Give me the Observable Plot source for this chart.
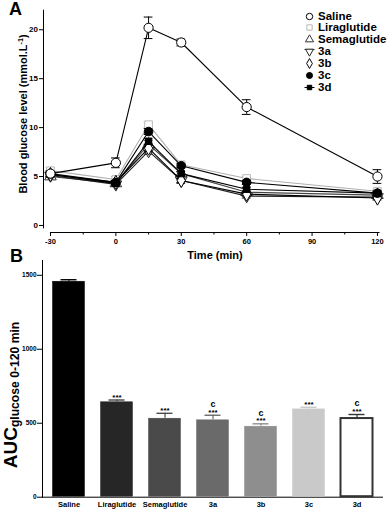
<!DOCTYPE html>
<html>
<head>
<meta charset="utf-8">
<script src="https://cdn.jsdelivr.net/npm/d3@7"></script>
<script src="https://cdn.jsdelivr.net/npm/@observablehq/plot@0.6"></script>
<style>
  html, body { margin: 0; padding: 0; background: #fff; }
  #wrap { position: relative; width: 392px; height: 512px; overflow: hidden;
          font-family: "Liberation Sans", Arial, Helvetica, sans-serif; font-weight: bold; color: #000; }
  .abs { position: absolute; }
  .letter { font-size: 18px; line-height: 1; }
  .rot { transform: translate(-50%, -50%) rotate(-90deg); white-space: nowrap; line-height: 1; }
  .ctr { transform: translate(-50%, -50%); white-space: nowrap; line-height: 1; }
  #legend .row { position: absolute; left: 0; height: 11px; display: flex; align-items: center; white-space: nowrap; }
  #legend .row span { font-size: 11.5px; margin-left: 3px; line-height: 11px; }
  sup { font-size: 0.65em; vertical-align: 0.45em; line-height: 0; }
  sub { font-size: 0.64em; vertical-align: -0.2em; line-height: 0; }
</style>
</head>
<body>
<div id="wrap">
  <div id="chartA" class="abs" style="left:0;top:0"></div>
  <div id="chartB" class="abs" style="left:0;top:258px"></div>
  <div class="abs letter" style="left:9px;top:0px">A</div>
  <div class="abs letter" style="left:10px;top:247px">B</div>
  <div class="abs rot" style="left:23px;top:114px;font-size:11px">Blood glucose level (mmol.L<sup>-1</sup>)</div>
  <div class="abs ctr" style="left:215px;top:255px;font-size:11px">Time (min)</div>
  <div class="abs rot" style="left:10px;top:395px;font-size:19px">AUC<sub>glucose 0-120 min</sub></div>
  <div id="legend" class="abs" style="left:304px;top:10.5px"></div>
</div>
<script>
// ---------- Panel A data ----------
const times = [-30, 0, 15, 30, 60, 120];
const seriesNames = ["Saline", "Liraglutide", "Semaglutide", "3a", "3b", "3c", "3d"];
const saline      = [5.3, 6.4, 20.2, 18.7, 12.1, 5.0];
const salineErr   = [0.3, 0.5, 1.1, 0.35, 0.75, 0.7];
const liraglutide = [5.6, 4.7, 10.3, 6.2, 4.8, 3.5];
const liraglutideErr = [0.3, 0.3, 0.3, 0.2, 0.2, 0.2];
const semaglutide = [5.0, 4.3, 8.3, 5.3, 3.4, 3.1];
const semaglutideErr = [0.2, 0.2, 0.4, 0.2, 0.2, 0.2];
const cpd3a = [5.1, 4.2, 7.6, 4.6, 3.0, 2.9];
const cpd3aErr = [0.2, 0.2, 0.3, 0.3, 0.2, 0.2];
const cpd3b = [5.2, 4.4, 7.9, 4.6, 3.2, 2.8];
const cpd3bErr = [0.2, 0.2, 0.3, 0.2, 0.2, 0.2];
const cpd3c = [5.3, 4.4, 9.6, 6.1, 4.4, 3.3];
const cpd3cErr = [0.2, 0.2, 0.3, 0.2, 0.2, 0.2];
const cpd3d = [5.2, 4.3, 8.6, 5.3, 3.7, 3.3];
const cpd3dErr = [0.2, 0.2, 0.3, 0.2, 0.2, 0.2];
const yTicksA = [0, 5, 10, 15, 20];
const xTicksA = [-30, 0, 30, 60, 90, 120];
const xMinorA = [-15, 15, 45, 75, 105];

// ---------- Panel B data ----------
const aucGroups = ["Saline", "Liraglutide", "Semaglutide", "3a", "3b", "3c", "3d"];
const aucValues = [1460, 645, 534, 523, 480, 597, 535];
const aucErr    = [10, 12, 33, 31, 16, 11, 24];
const aucStars  = ["", "***", "***", "***", "***", "***", "***"];
const aucLetter = ["", "", "", "c", "c", "", "c"];
const yTicksB = [0, 500, 1000, 1500];

// ---------- styles ----------
const sqrt3 = Math.sqrt(3);
const triangleDown = {
  draw(context, size) {
    const y = -Math.sqrt(size / (sqrt3 * 3));
    context.moveTo(0, -y * 2);
    context.lineTo(-sqrt3 * y, y);
    context.lineTo(sqrt3 * y, y);
    context.closePath();
  }
};
const style = {
  "Saline":      {symbol: "circle",   r: 4.6, fill: "#fff", stroke: "#000", line: "#000"},
  "Liraglutide": {symbol: "square",   r: 4.3, fill: "#fff", stroke: "#b8b8b8", line: "#b0b0b0"},
  "Semaglutide": {symbol: "triangle", r: 4.3, fill: "#fff", stroke: "#333", line: "#444"},
  "3a":          {symbol: triangleDown, r: 4.3, fill: "#fff", stroke: "#222", line: "#222"},
  "3b":          {symbol: "diamond",  r: 4.3, fill: "#fff", stroke: "#000", line: "#000"},
  "3c":          {symbol: "circle",   r: 4.3, fill: "#000", stroke: "#000", line: "#000"},
  "3d":          {symbol: "square",   r: 3.6, fill: "#000", stroke: "#000", line: "#000"}
};
const seriesValues = {
  "Saline": [saline, salineErr], "Liraglutide": [liraglutide, liraglutideErr],
  "Semaglutide": [semaglutide, semaglutideErr], "3a": [cpd3a, cpd3aErr],
  "3b": [cpd3b, cpd3bErr], "3c": [cpd3c, cpd3cErr], "3d": [cpd3d, cpd3dErr]
};
const rows = seriesNames.flatMap(name => times.map((t, i) => ({
  name, t, v: seriesValues[name][0][i], e: seriesValues[name][1][i]
})));

const font = '"Liberation Sans", Arial, Helvetica, sans-serif';
const drawOrder = ["Liraglutide", "Semaglutide", "3a", "3b", "3d", "3c", "Saline"];
const seriesMarks = drawOrder.flatMap(name => {
  const s = style[name];
  const d = rows.filter(r => r.name === name);
  return [
    Plot.line(d, {x: "t", y: "v", stroke: s.line, strokeWidth: 1.1}),
    Plot.ruleX(d, {x: "t", y1: r => r.v - r.e, y2: r => r.v + r.e, stroke: s.line, strokeWidth: 1}),
    Plot.ruleY(d, {y: r => r.v + r.e, x1: r => r.t - 2, x2: r => r.t + 2, stroke: s.line, strokeWidth: 1}),
    Plot.ruleY(d, {y: r => r.v - r.e, x1: r => r.t - 2, x2: r => r.t + 2, stroke: s.line, strokeWidth: 1}),
    Plot.dot(d, {x: "t", y: "v", symbol: s.symbol, r: s.r, fill: s.fill, stroke: s.stroke, strokeWidth: 1})
  ];
});

const xMinA = -33.2, yMinA = -0.72;
const chartA = Plot.plot({
  width: 392, height: 262,
  marginLeft: 43, marginRight: 12, marginTop: 9.7, marginBottom: 30,
  x: {domain: [xMinA, 121.4]},
  y: {domain: [yMinA, 22]},
  style: {fontFamily: font, fontWeight: "bold", fontSize: "8px", background: "transparent", color: "#000", overflow: "visible"},
  marks: [
    Plot.ruleX([xMinA], {y1: -0.35, y2: 22, stroke: "#000", strokeWidth: 1}),
    Plot.ruleY([yMinA], {x1: -30, x2: 121.2, stroke: "#000", strokeWidth: 1.2}),
    Plot.axisY({ticks: yTicksA, tickSize: 4, tickPadding: 1.5, label: null, fontSize: 8, stroke: "#000", tickFormat: d => String(d)}),
    Plot.axisX({ticks: xTicksA, tickSize: 4, tickPadding: 2, label: null, fontSize: 7.5, stroke: "#000", tickFormat: d => String(d)}),
    Plot.axisX({ticks: xMinorA, tickSize: 2.5, tickFormat: () => "", label: null, stroke: "#000"}),
    ...seriesMarks
  ]
});
document.getElementById("chartA").appendChild(chartA);

// ---------- Panel B ----------
const barFill  = ["#000000", "#262626", "#4a4a4a", "#6a6a6a", "#8e8e8e", "#c9c9c9", "#ffffff"];
const barStroke = ["#000000", "#262626", "#4a4a4a", "#6a6a6a", "#8e8e8e", "#c9c9c9", "#333333"];
const errStroke = ["#000000", "#444444", "#4a4a4a", "#6a6a6a", "#8e8e8e", "#c9c9c9", "#333333"];
const aucRows = aucGroups.map((g, i) => ({
  g, v: aucValues[i], e: aucErr[i], stars: aucStars[i], letter: aucLetter[i],
  fill: barFill[i], stroke: barStroke[i], err: errStroke[i]
}));

const chartB = Plot.plot({
  width: 392, height: 254,
  marginLeft: 42, marginRight: 10, marginTop: 2, marginBottom: 15.3,
  x: {type: "band", domain: aucGroups, paddingInner: 0.32, paddingOuter: 0.16, tickSize: 0, tickPadding: 4, label: null, line: true},
  y: {domain: [0, 1600], ticks: yTicksB, tickSize: 5, tickPadding: 1, label: null, line: true, tickFormat: d => String(d)},
  color: {type: "identity"},
  style: {fontFamily: font, fontWeight: "bold", fontSize: "7.5px", background: "transparent", color: "#000", overflow: "visible"},
  marks: [
    Plot.ruleX(aucRows, {x: "g", y1: "v", y2: d => d.v + d.e, stroke: "err", strokeWidth: 1.2}),
    Plot.tickY(aucRows, {x: "g", y: d => d.v + d.e, stroke: "err", strokeWidth: 1.4, inset: 8.5}),
    Plot.barY(aucRows, {x: "g", y: "v", fill: "fill", stroke: "stroke", strokeWidth: d => d.g === "3d" ? 2 : 0.5, inset: 0.5}),
    Plot.text(aucRows, {x: "g", y: d => d.v + d.e, text: "stars", dy: -3, fontSize: 8, fill: "#000"}),
    Plot.text(aucRows, {x: "g", y: d => d.v + d.e, text: "letter", dy: -11, fontSize: 9, fill: "#000"})
  ]
});
chartB.querySelectorAll("g[aria-label='y-axis tick label']").forEach(el => el.setAttribute("font-size", "6.5"));
document.getElementById("chartB").appendChild(chartB);

// ---------- Legend ----------
const legend = document.getElementById("legend");
seriesNames.forEach((name, i) => {
  const s = style[name];
  const row = document.createElement("div");
  row.className = "row";
  row.style.top = (i * 11.9) + "px";
  const ns = "http://www.w3.org/2000/svg";
  const svg = document.createElementNS(ns, "svg");
  svg.setAttribute("width", 11); svg.setAttribute("height", 11);
  const g = document.createElementNS(ns, "g");
  g.setAttribute("transform", "translate(5.5,5.5)");
  if (name === "3a" || name === "3d") {
    const ln = document.createElementNS(ns, "line");
    ln.setAttribute("x1", -5); ln.setAttribute("x2", 5);
    ln.setAttribute("y1", name === "3a" ? -2 : 0); ln.setAttribute("y2", name === "3a" ? -2 : 0);
    ln.setAttribute("stroke", s.line); ln.setAttribute("stroke-width", 1);
    g.appendChild(ln);
  }
  const symMap = {circle: d3.symbolCircle, square: d3.symbolSquare, triangle: d3.symbolTriangle, diamond: d3.symbolDiamond};
  const type = typeof s.symbol === "string" ? symMap[s.symbol] : s.symbol;
  const p = document.createElementNS(ns, "path");
  const rr = s.r * 0.7;
  p.setAttribute("d", d3.symbol(type, Math.PI * rr * rr)());
  p.setAttribute("fill", s.fill); p.setAttribute("stroke", s.stroke); p.setAttribute("stroke-width", 1);
  g.appendChild(p);
  svg.appendChild(g);
  row.appendChild(svg);
  const sp = document.createElement("span");
  sp.textContent = name;
  row.appendChild(sp);
  legend.appendChild(row);
});
</script>
</body>
</html>
